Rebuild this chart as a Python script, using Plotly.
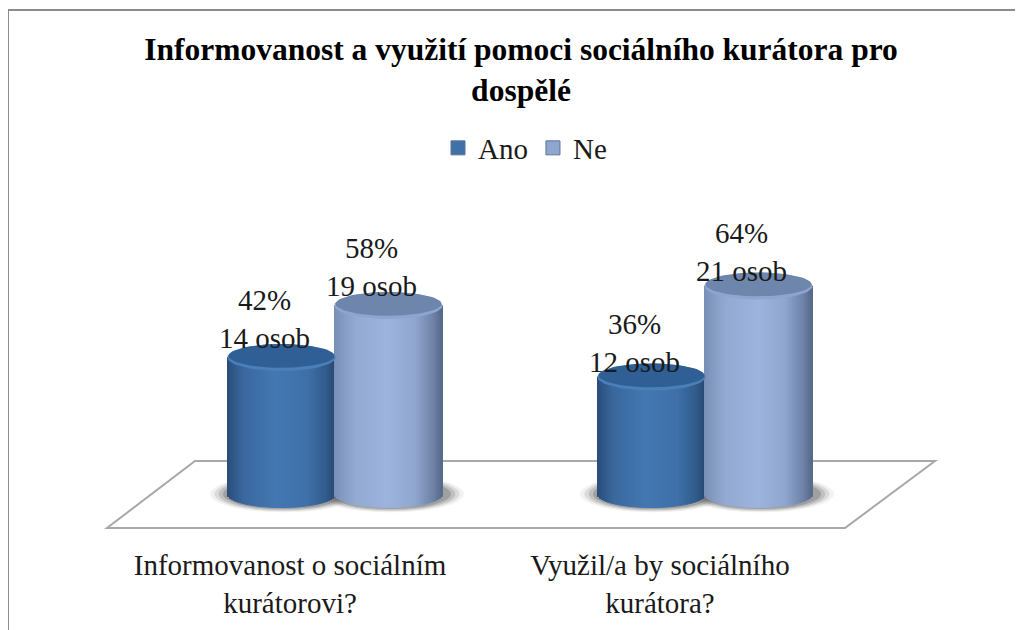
import numpy as np
import plotly.graph_objects as go

TITLE = "<b>Informovanost a využití pomoci sociálního kurátora pro<br>dospělé</b>"
categories = ["Informovanost o sociálním<br>kurátorovi?", "Využil/a by sociálního<br>kurátora?"]
series_names = ["Ano", "Ne"]
ano_percent = [42, 36]
ne_percent = [58, 64]
ano_people = [14, 12]
ne_people = [19, 21]

FONT = "Liberation Serif"
PAGE_MARGIN = 8  # the browser's body margin pushes the figure in by this much
W, H = 1023 - PAGE_MARGIN, 630 - PAGE_MARGIN
# plot area in page pixels; one x unit is one category, one y unit is one percent
LEFT, RIGHT, TOP, BOTTOM = 100, 940, 180, 535
PX_PER_X = 370
PX_PER_PCT = 3.25
ZERO_PX = 494
FIRST_GROUP_PX = 335

HALF_W = 54 / PX_PER_X
OFFSET = 53.5 / PX_PER_X
RY = 13.5 / PX_PER_PCT
N_STRIPS = 54

STYLE = {
    "Ano": {"pos": [-1, -0.7, -0.1, 0.5, 0.85, 1],
            "col": ["#2a4d78", "#3a689e", "#4478b2", "#3f70a8", "#305a8a", "#274a72"],
            "cap": "#2f5f95", "rim": "#4a7fb8", "legend": "#3f70a8"},
    "Ne": {"pos": [-1, -0.6, 0, 0.5, 0.85, 1],
           "col": ["#7a8fb5", "#93abd3", "#9db4de", "#8fa6cf", "#6e81a6", "#566888"],
           "cap": "#6e86ab", "rim": "#8ea6cf", "legend": "#8fa6cf"},
}


def shade(u, style):
    rgb = [[int(c[i:i + 2], 16) for i in (1, 3, 5)] for c in style["col"]]
    return "rgb({},{},{})".format(*[int(np.interp(u, style["pos"], [c[k] for c in rgb])) for k in range(3)])


def ellipse(cx, cy, rx, ry, n=60):
    t = np.linspace(0, 2 * np.pi, n)
    return cx + rx * np.cos(t), cy + ry * np.sin(t)


def fill_trace(x, y, color):
    return go.Scatter(x=x, y=y, mode="lines", fill="toself", fillcolor=color,
                      line=dict(width=0), hoverinfo="skip", showlegend=False)


def add_cylinder(fig, center, value, name):
    style = STYLE[name]
    u = (np.arange(N_STRIPS) + 0.5) / N_STRIPS * 2 - 1
    curve = RY * np.sqrt(1 - u ** 2)
    colors = [shade(v, style) for v in u]
    fig.add_trace(go.Bar(
        x=center + u * HALF_W, y=value + curve, base=-curve,
        width=2 * HALF_W / N_STRIPS, marker=dict(color=colors, line=dict(color=colors, width=1)),
        hoverinfo="skip", showlegend=False,
    ))
    # top of the cylinder: lighter front rim with the darker cap just behind it
    fig.add_trace(fill_trace(*ellipse(center, value, HALF_W, RY), style["rim"]))
    fig.add_trace(fill_trace(*ellipse(center, value + 0.5, HALF_W * 0.98, RY * 0.88), style["cap"]))


fig = go.Figure()

for g in range(len(categories)):
    add_cylinder(fig, g - OFFSET, ano_percent[g], "Ano")
    add_cylinder(fig, g + OFFSET, ne_percent[g], "Ne")

# data labels sit a little left of the bars, as in the 3D projection
label_shift = 17 / PX_PER_X
label_lift = [0.8, -0.6]
label_x, label_y, label_text = [], [], []
for g in range(len(categories)):
    label_x += [g - OFFSET - label_shift, g + OFFSET - label_shift]
    label_y += [ano_percent[g] + label_lift[g], ne_percent[g] + label_lift[g]]
    label_text += [f"{ano_percent[g]}%<br>{ano_people[g]} osob", f"{ne_percent[g]}%<br>{ne_people[g]} osob"]
fig.add_trace(go.Scatter(x=label_x, y=label_y, text=label_text, mode="text", textposition="top center",
                         textfont=dict(family=FONT, size=29, color="#1a1a1a"), hoverinfo="skip", showlegend=False))

for name in series_names:
    fig.add_trace(go.Scatter(x=[None], y=[None], mode="markers", name=name,
                             marker=dict(symbol="square", size=14, color=STYLE[name]["legend"],
                                         line=dict(color="#5a7597", width=1))))

x_min = (LEFT - FIRST_GROUP_PX) / PX_PER_X
x_max = (RIGHT - FIRST_GROUP_PX) / PX_PER_X
y_max = (ZERO_PX - TOP) / PX_PER_PCT
y_min = (ZERO_PX - BOTTOM) / PX_PER_PCT


def floor_x(px):
    return (px - FIRST_GROUP_PX) / PX_PER_X


def floor_y(py):
    return (ZERO_PX - py) / PX_PER_PCT


floor_path = "M {} {} L {} {} L {} {} L {} {} Z".format(
    floor_x(195), floor_y(461), floor_x(935), floor_y(461), floor_x(845), floor_y(528), floor_x(107), floor_y(528))


def paper_x(px):
    return (px - LEFT) / (RIGHT - LEFT)


def paper_y(py):
    return (BOTTOM - py) / (BOTTOM - TOP)


shapes = [
    dict(type="path", path=floor_path, xref="x", yref="y", layer="below",
         line=dict(color="#a8a8a8", width=2), fillcolor="rgba(0,0,0,0)"),
    dict(type="line", xref="paper", yref="paper", x0=paper_x(8), x1=paper_x(1023), y0=paper_y(10), y1=paper_y(10),
         line=dict(color="#8c8c8c", width=2)),
    dict(type="line", xref="paper", yref="paper", x0=paper_x(8), x1=paper_x(8), y0=paper_y(10), y1=paper_y(630),
         line=dict(color="#8c8c8c", width=2)),
]
# soft shadow on the floor, under the cylinders
for center in [g + s * OFFSET for g in range(len(categories)) for s in (-1, 1)]:
    for grow, alpha in [(1.36, 0.08), (1.28, 0.14), (1.2, 0.2), (1.12, 0.3)]:
        cx = center + 2 / PX_PER_X
        shapes.append(dict(type="circle", xref="x", yref="y", layer="below", line=dict(width=0),
                           x0=cx - HALF_W * grow, x1=cx + HALF_W * grow, y0=-RY * grow, y1=RY * grow,
                           fillcolor=f"rgba(85,85,85,{alpha})"))

fig.update_layout(
    width=W, height=H,
    margin=dict(l=LEFT - PAGE_MARGIN, r=W + PAGE_MARGIN - RIGHT, t=TOP - PAGE_MARGIN, b=H + PAGE_MARGIN - BOTTOM,
                autoexpand=False),
    paper_bgcolor="white", plot_bgcolor="rgba(0,0,0,0)",
    barmode="overlay",
    title=dict(text=TITLE, x=(521 - PAGE_MARGIN) / W, xanchor="center", y=1 - (60 - PAGE_MARGIN) / H, yanchor="top",
               font=dict(family=FONT, size=31.5, color="black")),
    legend=dict(orientation="h", x=paper_x(525), xanchor="center", y=paper_y(148), yanchor="middle",
                font=dict(family=FONT, size=29, color="#1a1a1a"), itemwidth=30, bgcolor="rgba(0,0,0,0)"),
    xaxis=dict(range=[x_min, x_max], tickmode="array",
               tickvals=[g - 45 / PX_PER_X for g in range(len(categories))], ticktext=categories,
               showgrid=False, zeroline=False, showline=False, ticks="", ticklabelstandoff=10,
               tickfont=dict(family=FONT, size=29, color="#1a1a1a")),
    yaxis=dict(range=[y_min, y_max], visible=False),
    shapes=shapes,
)

fig.write_html("out.html")
